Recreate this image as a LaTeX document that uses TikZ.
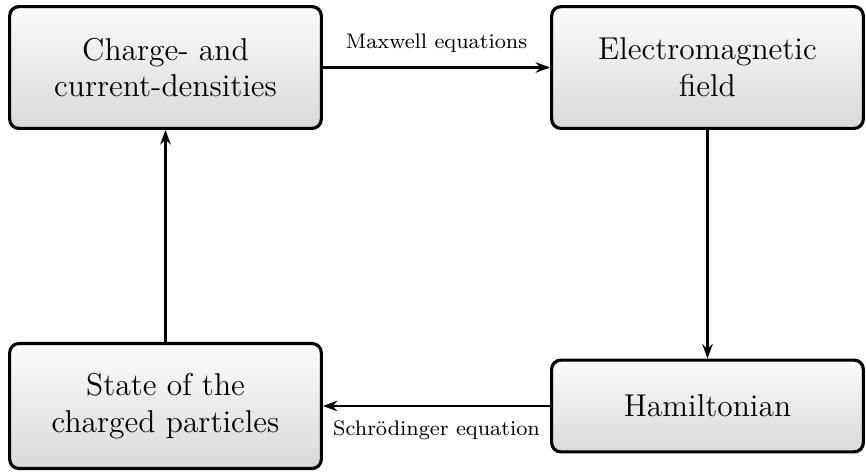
\documentclass[tikz,border=0pt]{standalone}
\usetikzlibrary{arrows.meta}
\begin{document}
\begin{tikzpicture}[x=0.3802pt,y=0.3802pt,
  box/.style={draw=black, line width=1.2pt, rounded corners=3.5pt,
    top color=gray!3, bottom color=gray!30, minimum width=118.5pt,
    inner sep=0pt, align=center, font=\large},
  conn/.style={-{Stealth[length=5.5pt,width=4pt]}, line width=0.8pt},
  lbl/.style={font=\footnotesize}]
\useasboundingbox (0,0) rectangle (866,472);
\node[box, minimum height=46.3pt] (cd) at (165.5,404.5) {Charge- and\\current-densities};
\node[box, minimum height=46.3pt] (em) at (707.5,404.5) {Electromagnetic\\field};
\node[box, minimum height=34.9pt] (ham) at (707.5,66) {Hamiltonian};
\node[box, minimum height=47.5pt] (st) at (165.5,66) {State of the\\charged particles};
\draw[conn] (cd) -- node[lbl, above=2pt] (mx) {Maxwell equations} (em);
\draw[conn] (em) -- (ham);
\draw[conn] (ham) -- node[lbl, below=2pt] (sc) {Schrödinger equation} (st);
\draw[conn] (st) -- (cd);
\end{tikzpicture}
\end{document}
